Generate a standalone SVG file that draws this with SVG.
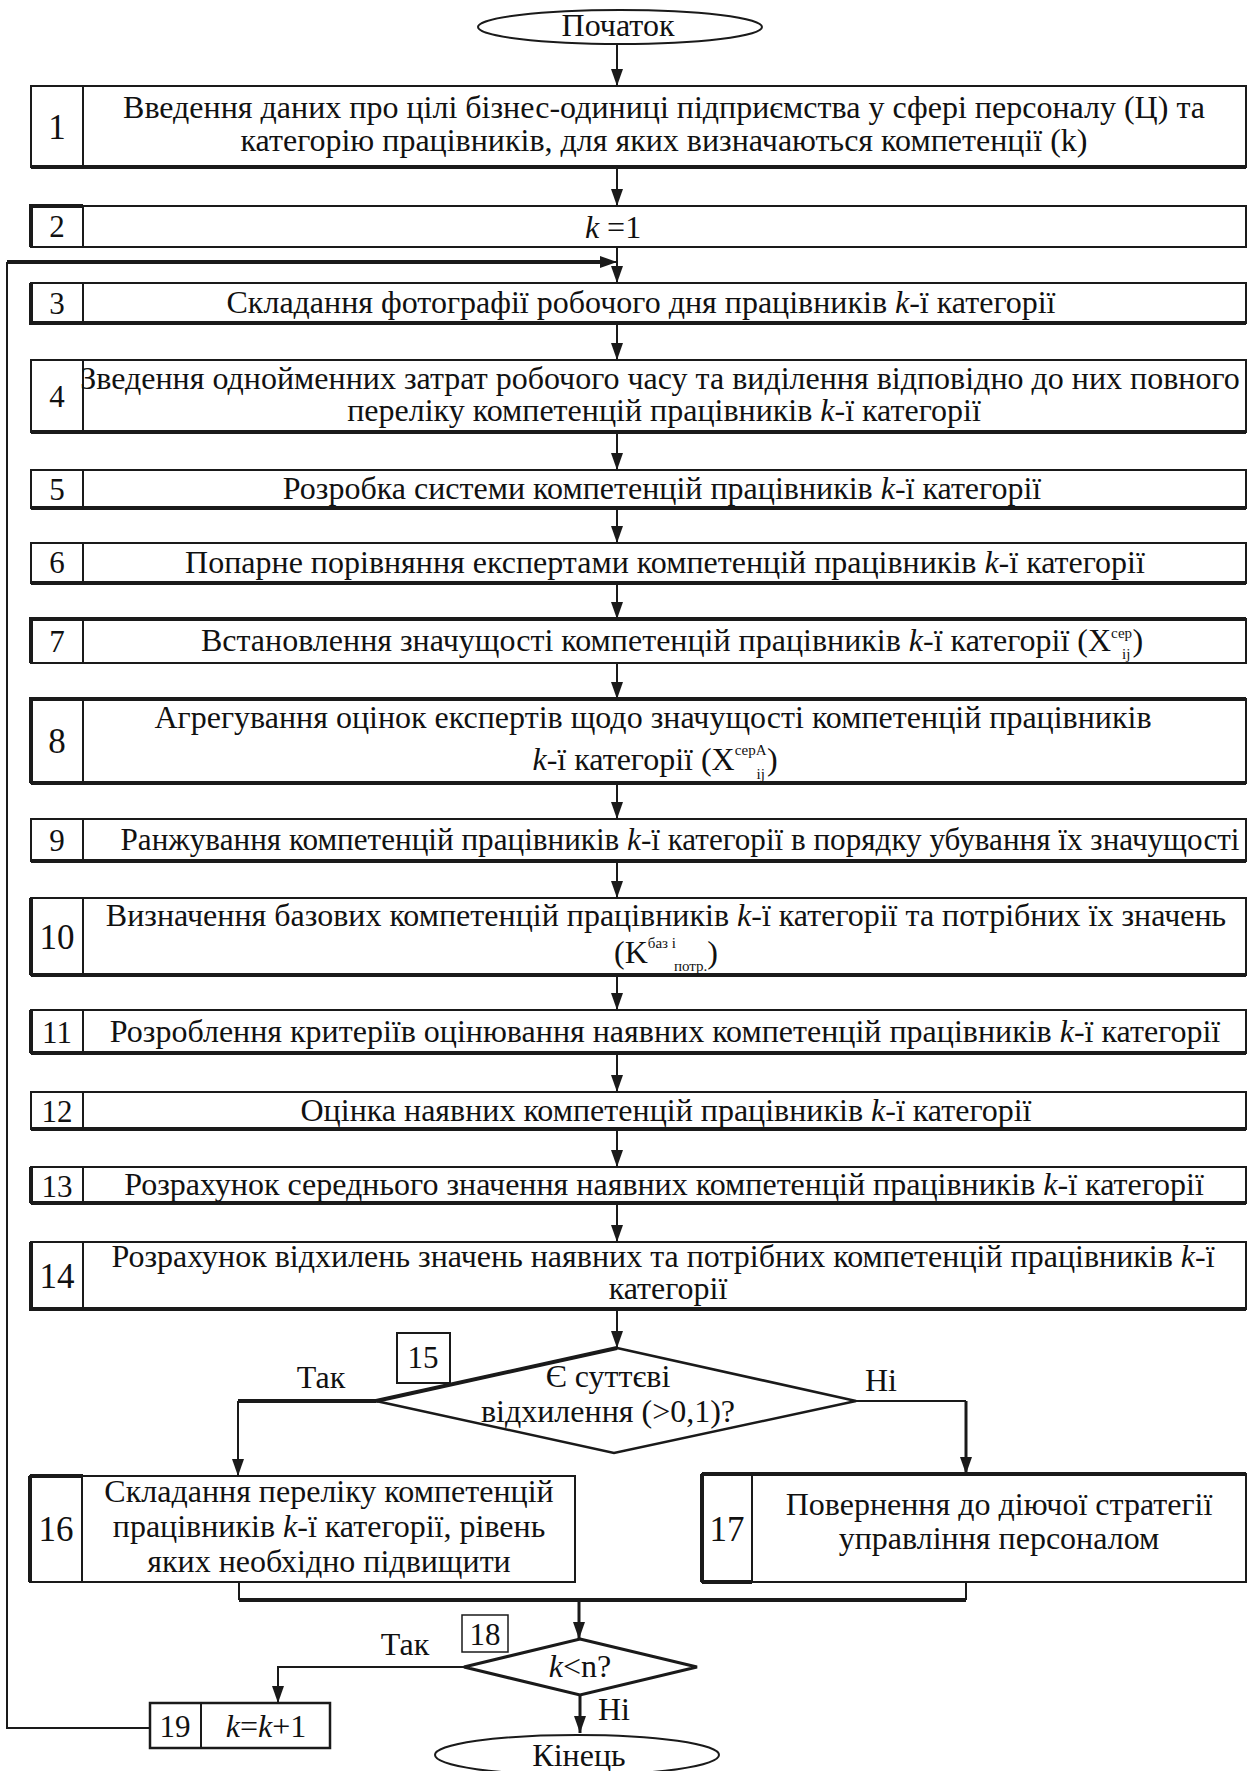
<svg xmlns="http://www.w3.org/2000/svg" width="1248" height="1771" viewBox="0 0 1248 1771">
<style>
.bx{fill:#fff;stroke:#1a1a1a;stroke-width:2}
.sh{fill:none;stroke:#1a1a1a;stroke-width:4}
.dv{stroke:#1a1a1a;stroke-width:2}
.t{font-family:"Liberation Serif","Times New Roman",serif;font-size:32px;fill:#111;text-anchor:middle}
.n{font-family:"Liberation Serif","Times New Roman",serif;font-size:31px;fill:#111;text-anchor:middle}
.nb{font-size:35px}
.i{font-style:italic}
.s{font-size:15px}
.ln{fill:none;stroke:#1a1a1a;stroke-width:2}
.tk{stroke-width:4}
</style>
<defs>
<marker id="arr" viewBox="0 0 17 12" refX="17" refY="6" markerWidth="17" markerHeight="12" orient="auto" markerUnits="userSpaceOnUse">
<path d="M0,0 L17,6 L0,12 z" fill="#1a1a1a"/>
</marker>
</defs>

<g id="connectors">
<line class="ln" x1="617" y1="44" x2="617" y2="86" marker-end="url(#arr)"/>
<line class="ln" x1="617" y1="167" x2="617" y2="206" marker-end="url(#arr)"/>
<line class="ln" x1="617" y1="247" x2="617" y2="283" marker-end="url(#arr)"/>
<line class="ln" x1="617" y1="323" x2="617" y2="360" marker-end="url(#arr)"/>
<line class="ln" x1="617" y1="432" x2="617" y2="470" marker-end="url(#arr)"/>
<line class="ln" x1="617" y1="508" x2="617" y2="543" marker-end="url(#arr)"/>
<line class="ln" x1="617" y1="583" x2="617" y2="619" marker-end="url(#arr)"/>
<line class="ln" x1="617" y1="663" x2="617" y2="699" marker-end="url(#arr)"/>
<line class="ln" x1="617" y1="783" x2="617" y2="819" marker-end="url(#arr)"/>
<line class="ln" x1="617" y1="861" x2="617" y2="898" marker-end="url(#arr)"/>
<line class="ln" x1="617" y1="975" x2="617" y2="1010" marker-end="url(#arr)"/>
<line class="ln" x1="617" y1="1053" x2="617" y2="1092" marker-end="url(#arr)"/>
<line class="ln" x1="617" y1="1129" x2="617" y2="1167" marker-end="url(#arr)"/>
<line class="ln" x1="617" y1="1203" x2="617" y2="1242" marker-end="url(#arr)"/>
<line class="ln" x1="617" y1="1309" x2="617" y2="1348" marker-end="url(#arr)"/>
<path class="ln tk" d="M376,1401 H238"/>
<path class="ln" d="M238,1401 V1476" marker-end="url(#arr)"/>
<path class="ln" d="M856,1401 H966"/>
<path class="ln" style="stroke-width:3" d="M966,1401 V1474" marker-end="url(#arr)"/>
<path class="ln" d="M239,1582 V1600"/>
<path class="ln" d="M966,1582 V1600"/>
<path class="ln tk" d="M239,1600 H966"/>
<path class="ln" style="stroke-width:3" d="M579,1600 V1639" marker-end="url(#arr)"/>
<path class="ln" d="M464,1667 H278 V1703" marker-end="url(#arr)"/>
<path class="ln" style="stroke-width:3" d="M580,1695 V1733" marker-end="url(#arr)"/>
<path class="ln" d="M150,1728 H7 V262"/>
<path class="ln tk" d="M7,262 H601"/>
<path class="ln" d="M598,262 H617" marker-end="url(#arr)"/>
</g>

<g id="start">
<ellipse cx="620" cy="27" rx="142" ry="17" fill="#fff" stroke="#1a1a1a" stroke-width="2"/>
<text class="t" x="618" y="36">Початок</text>
</g>

<g id="node1">
<rect class="bx" x="31" y="86" width="1215" height="81"/>
<path class="sh" d="M31,167 H1246"/>
<line class="dv" x1="83" y1="86" x2="83" y2="167"/>
<text class="n nb" x="57" y="139">1</text>
<text class="t" x="664" y="118">Введення даних про цілі бізнес-одиниці підприємства у сфері персоналу (Ц) та</text>
<text class="t" x="664" y="151">категорію працівників, для яких визначаються компетенції (k)</text>
</g>

<g id="node2">
<rect class="bx" x="31" y="206" width="1215" height="41"/>
<path class="sh" d="M31,247 V206 H83"/>
<line class="dv" x1="83" y1="206" x2="83" y2="247"/>
<text class="n" x="57" y="237">2</text>
<text class="t" x="613" y="238"><tspan class="i">k</tspan> =1</text>
</g>

<g id="node3">
<rect class="bx" x="31" y="283" width="1215" height="40"/>
<path class="sh" d="M31,283 V323 H1246"/>
<line class="dv" x1="83" y1="283" x2="83" y2="323"/>
<text class="n" x="57" y="314">3</text>
<text class="t" x="641" y="313">Складання фотографії робочого дня працівників <tspan class="i">k</tspan>-ї категорії</text>
</g>

<g id="node4">
<rect class="bx" x="31" y="360" width="1215" height="72"/>
<path class="sh" d="M31,432 H1246"/>
<line class="dv" x1="83" y1="360" x2="83" y2="432"/>
<text class="n" x="57" y="407">4</text>
<text class="t" x="660" y="389">Зведення однойменних затрат робочого часу та виділення відповідно до них повного</text>
<text class="t" x="664" y="421">переліку компетенцій працівників <tspan class="i">k</tspan>-ї категорії</text>
</g>

<g id="node5">
<rect class="bx" x="31" y="470" width="1215" height="38"/>
<path class="sh" d="M31,508 H1246"/>
<line class="dv" x1="83" y1="470" x2="83" y2="508"/>
<text class="n" x="57" y="500">5</text>
<text class="t" x="662" y="499">Розробка системи компетенцій працівників <tspan class="i">k</tspan>-ї категорії</text>
</g>

<g id="node6">
<rect class="bx" x="31" y="543" width="1215" height="40"/>
<path class="sh" d="M31,583 H1246"/>
<line class="dv" x1="83" y1="543" x2="83" y2="583"/>
<text class="n" x="57" y="573">6</text>
<text class="t" x="665" y="573">Попарне порівняння експертами компетенцій працівників <tspan class="i">k</tspan>-ї категорії</text>
</g>

<g id="node7">
<rect class="bx" x="31" y="619" width="1215" height="44"/>
<path class="sh" d="M31,663 V619 H1246"/>
<line class="dv" x1="83" y1="619" x2="83" y2="663"/>
<text class="n" x="57" y="652">7</text>
<text class="t" x="672" y="651">Встановлення значущості компетенцій працівників <tspan class="i">k</tspan>-ї категорії (X<tspan class="s" dy="-13">сер</tspan><tspan class="s" dx="-10" dy="21">ij</tspan><tspan dx="2" dy="-8">)</tspan></text>
</g>

<g id="node8">
<rect class="bx" x="31" y="699" width="1215" height="84"/>
<path class="sh" d="M31,783 V699 H1246 M31,783 H1246"/>
<line class="dv" x1="83" y1="699" x2="83" y2="783"/>
<text class="n nb" x="57" y="753">8</text>
<text class="t" x="653" y="728">Агрегування оцінок експертів щодо значущості компетенцій працівників</text>
<text class="t" x="655" y="770"><tspan class="i">k</tspan>-ї категорії (X<tspan class="s" dy="-15">серА</tspan><tspan class="s" dx="-10" dy="24">ij</tspan><tspan dx="2" dy="-9">)</tspan></text>
</g>

<g id="node9">
<rect class="bx" x="31" y="819" width="1215" height="42"/>
<path class="sh" d="M31,861 H1246"/>
<line class="dv" x1="83" y1="819" x2="83" y2="861"/>
<text class="n" x="57" y="851">9</text>
<text class="t" x="680" y="850" textLength="1119" lengthAdjust="spacingAndGlyphs">Ранжування компетенцій працівників <tspan class="i">k</tspan>-ї категорії в порядку убування їх значущості</text>
</g>

<g id="node10">
<rect class="bx" x="31" y="898" width="1215" height="77"/>
<path class="sh" d="M31,975 V898 M31,975 H1246"/>
<line class="dv" x1="83" y1="898" x2="83" y2="975"/>
<text class="n nb" x="57" y="949">10</text>
<text class="t" x="666" y="926">Визначення базових компетенцій працівників <tspan class="i">k</tspan>-ї категорії та потрібних їх значень</text>
<text class="t" x="666" y="963">(K<tspan class="s" dy="-15">баз і</tspan><tspan class="s" dx="-2" dy="23">потр.</tspan><tspan dy="-8">)</tspan></text>
</g>

<g id="node11">
<rect class="bx" x="31" y="1010" width="1215" height="43"/>
<path class="sh" d="M31,1053 V1010 M31,1053 H1246"/>
<line class="dv" x1="83" y1="1010" x2="83" y2="1053"/>
<text class="n" x="57" y="1043">11</text>
<text class="t" x="665" y="1042">Розроблення критеріїв оцінювання наявних компетенцій працівників  <tspan class="i">k</tspan>-ї категорії</text>
</g>

<g id="node12">
<rect class="bx" x="31" y="1092" width="1215" height="37"/>
<path class="sh" d="M31,1129 H1246"/>
<line class="dv" x1="83" y1="1092" x2="83" y2="1129"/>
<text class="n" x="57" y="1122">12</text>
<text class="t" x="666" y="1121">Оцінка наявних компетенцій працівників <tspan class="i">k</tspan>-ї категорії</text>
</g>

<g id="node13">
<rect class="bx" x="31" y="1167" width="1215" height="36"/>
<path class="sh" d="M31,1203 H1246 M31,1167 V1203"/>
<line class="dv" x1="83" y1="1167" x2="83" y2="1203"/>
<text class="n" x="57" y="1197">13</text>
<text class="t" x="664" y="1195">Розрахунок середнього значення наявних компетенцій працівників <tspan class="i">k</tspan>-ї категорії</text>
</g>

<g id="node14">
<rect class="bx" x="31" y="1242" width="1215" height="67"/>
<path class="sh" d="M31,1242 V1309 H1246"/>
<line class="dv" x1="83" y1="1242" x2="83" y2="1309"/>
<text class="n nb" x="57" y="1288">14</text>
<text class="t" x="663" y="1267">Розрахунок відхилень значень наявних та потрібних компетенцій працівників <tspan class="i">k</tspan>-ї</text>
<text class="t" x="668" y="1299">категорії</text>
</g>

<g id="node15">
<polygon points="617,1348 856,1401 614,1453 376,1401" fill="#fff" stroke="#1a1a1a" stroke-width="2.5"/>
<path class="ln" style="stroke-width:4" d="M376,1401 L617,1348"/>
<rect x="397" y="1333" width="53" height="50" fill="#fff" stroke="#1a1a1a" stroke-width="2"/>
<text class="n" x="423" y="1368">15</text>
<text class="t" x="608" y="1387">Є суттєві</text>
<text class="t" x="608" y="1422">відхилення (&gt;0,1)?</text>
<text class="t" x="321" y="1388">Так</text>
<text class="t" x="881" y="1391">Ні</text>
</g>

<g id="node16">
<rect class="bx" x="30" y="1476" width="545" height="106"/>
<path class="sh" d="M30,1476 V1582 M30,1476 H83"/>
<line class="dv" x1="82" y1="1476" x2="82" y2="1582"/>
<text class="n nb" x="56" y="1541">16</text>
<text class="t" x="329" y="1502">Складання переліку компетенцій</text>
<text class="t" x="329" y="1537">працівників <tspan class="i">k</tspan>-ї категорії, рівень</text>
<text class="t" x="329" y="1572">яких необхідно підвищити</text>
</g>

<g id="node17">
<rect class="bx" x="702" y="1474" width="544" height="108"/>
<path class="sh" d="M702,1474 H1246 M702,1582 H752 M702,1474 V1582"/>
<line class="dv" x1="752" y1="1474" x2="752" y2="1582"/>
<text class="n nb" x="727" y="1541">17</text>
<text class="t" x="999" y="1515">Повернення до діючої стратегії</text>
<text class="t" x="999" y="1549">управління персоналом</text>
</g>

<g id="node18">
<polygon points="580,1639 697,1667 580,1695 464,1667" fill="#fff" stroke="#1a1a1a" stroke-width="3"/>
<rect x="462" y="1615" width="46" height="37" fill="#fff" stroke="#1a1a1a" stroke-width="1.5"/>
<text class="n" x="485" y="1645">18</text>
<text class="t" x="580" y="1677"><tspan class="i">k</tspan>&lt;n?</text>
<text class="t" x="405" y="1655">Так</text>
<text class="t" x="614" y="1720">Ні</text>
</g>

<g id="node19">
<rect class="bx" x="150" y="1703" width="180" height="45" style="stroke-width:2.5"/>
<line class="dv" x1="201" y1="1703" x2="201" y2="1748"/>
<text class="n" x="175" y="1737">19</text>
<text class="t" x="266" y="1737"><tspan class="i">k</tspan>=<tspan class="i">k</tspan>+1</text>
</g>

<g id="end">
<ellipse cx="577" cy="1755" rx="142" ry="20" fill="#fff" stroke="#1a1a1a" stroke-width="2"/>
<text class="t" x="579" y="1766">Кінець</text>
</g>
</svg>
